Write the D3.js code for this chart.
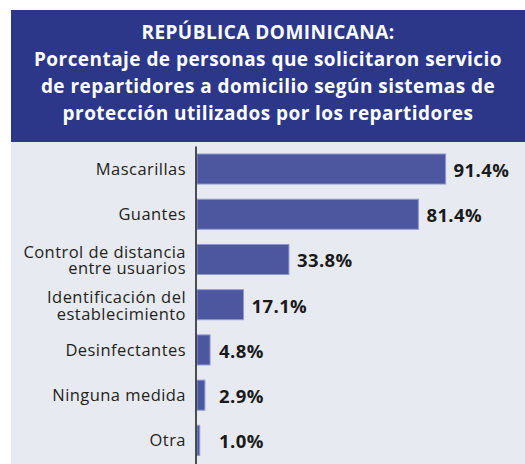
<!DOCTYPE html>
<html>
<head>
<meta charset="utf-8">
<script src="https://cdn.jsdelivr.net/npm/d3@7"></script>
<style>
  body { margin: 0; background: #ffffff; }
  svg { display: block; }
</style>
</head>
<body>
<div id="chart"></div>
<script>
// Chart values.
var categories = [
  ["Mascarillas"],
  ["Guantes"],
  ["Control de distancia", "entre usuarios"],
  ["Identificación del", "establecimiento"],
  ["Desinfectantes"],
  ["Ninguna medida"],
  ["Otra"]
];
var values = [91.4, 81.4, 33.8, 17.1, 4.8, 2.9, 1.0];
var valueLabels = ["91.4%", "81.4%", "33.8%", "17.1%", "4.8%", "2.9%", "1.0%"];
var titleLines = [
  "REPÚBLICA DOMINICANA:",
  "Porcentaje de personas que solicitaron servicio",
  "de repartidores a domicilio según sistemas de",
  "protección utilizados por los repartidores"
];

// Size of the page.
var width = 525;
var height = 464;
var fontFamily = "'Open Sans', Lato, sans-serif";

var svg = d3.select("#chart")
  .append("svg")
  .attr("width", width)
  .attr("height", height);

// Blue header box and the pale panel under it.
svg.append("rect")
  .attr("x", 11).attr("y", 10)
  .attr("width", width - 11).attr("height", 132)
  .attr("fill", "#2c378a");

svg.append("rect")
  .attr("x", 11).attr("y", 142)
  .attr("width", width - 11).attr("height", height - 142)
  .attr("fill", "#e8eaf1");

// Title lines.
svg.append("g")
  .selectAll("text")
  .data(titleLines)
  .join("text")
  .attr("x", 268)
  .attr("y", function(d, i) { return 39 + i * 27; })
  .attr("text-anchor", "middle")
  .attr("fill", "#ffffff")
  .attr("font-family", fontFamily)
  .attr("font-weight", "bold")
  .attr("font-size", "19px")
  .attr("letter-spacing", "0.45px")
  .text(function(d) { return d; });

// Scales.
var x = d3.scaleLinear()
  .domain([0, 100])
  .range([197, 197 + 272]);

var y = d3.scaleBand()
  .domain(d3.range(values.length))
  .range([146.4, 463])
  .paddingInner(0.336)
  .paddingOuter(0.168);

// Bars.
svg.append("g")
  .selectAll("rect")
  .data(values)
  .join("rect")
  .attr("x", x(0))
  .attr("y", function(d, i) { return y(i); })
  .attr("width", function(d) { return x(d) - x(0); })
  .attr("height", y.bandwidth())
  .attr("fill", "#4c57a0")
  .attr("stroke", "#8f98cf")
  .attr("stroke-width", 1);

// Left axis line (no ticks).
var axis = svg.append("g")
  .attr("transform", "translate(196,0)")
  .call(d3.axisLeft(y).tickSize(0).tickFormat(""));
axis.select(".domain")
  .attr("d", "M0,146.5V464")
  .attr("stroke", "#1a1a1a")
  .attr("stroke-width", 1.5);

// Category labels, one or two lines each.
var labels = svg.append("g")
  .selectAll("text")
  .data(categories)
  .join("text")
  .attr("text-anchor", "end")
  .attr("fill", "#231f20")
  .attr("font-family", fontFamily)
  .attr("font-size", "16.5px")
  .attr("letter-spacing", "0.45px")
  .attr("y", function(d, i) {
    var mid = y(i) + y.bandwidth() / 2;
    return d.length > 1 ? mid - 1.5 : mid + 6;
  });

labels.selectAll("tspan")
  .data(function(d) { return d; })
  .join("tspan")
  .attr("x", 186)
  .attr("dy", function(d, i) { return i === 0 ? 0 : 16.5; })
  .text(function(d) { return d; });

// Value labels.
svg.append("g")
  .selectAll("text")
  .data(values)
  .join("text")
  .attr("x", function(d) { return Math.max(x(d) + 8, 219); })
  .attr("y", function(d, i) { return y(i) + y.bandwidth() / 2 + 8; })
  .attr("fill", "#1a1a1a")
  .attr("font-family", fontFamily)
  .attr("font-weight", "bold")
  .attr("font-size", "18.5px")
  .attr("letter-spacing", "0.4px")
  .text(function(d, i) { return valueLabels[i]; });
</script>
</body>
</html>
